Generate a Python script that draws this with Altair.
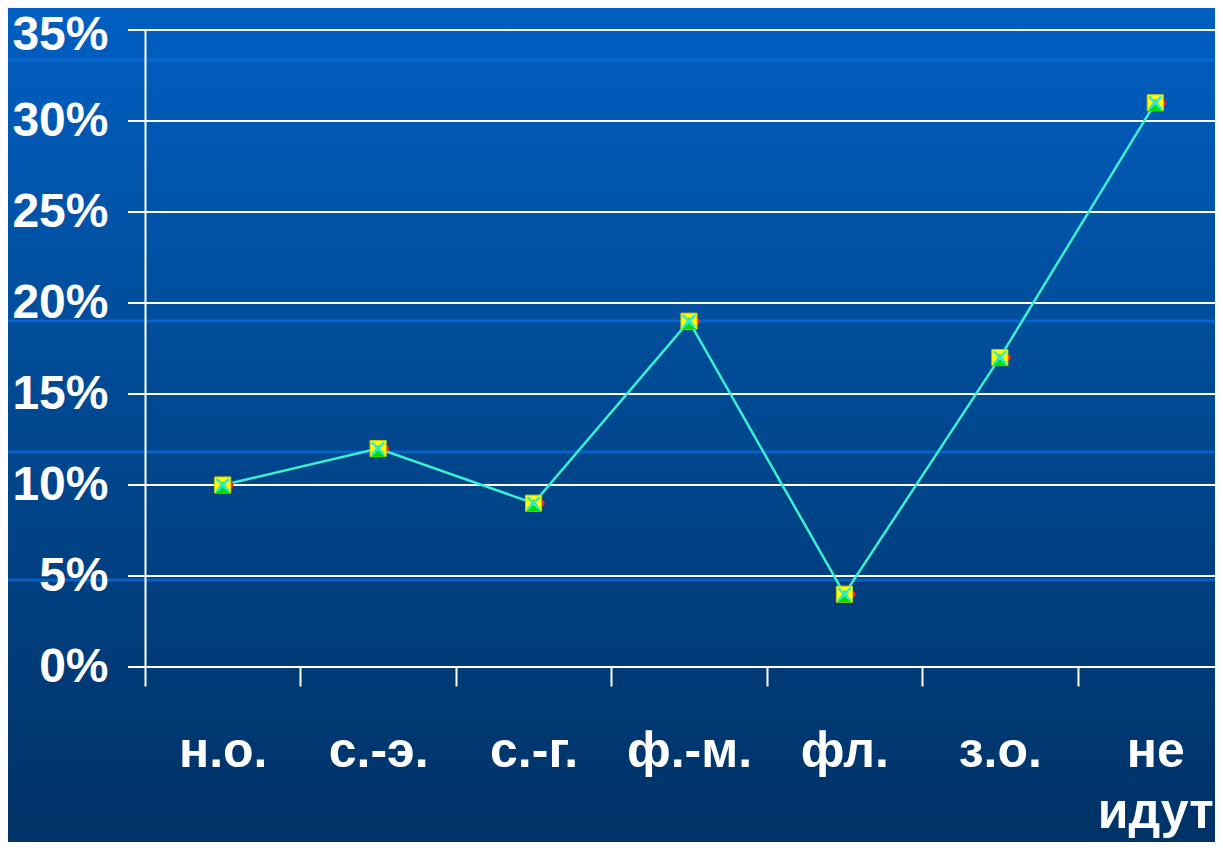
import altair as alt
import pandas as pd

categories = ["н.о.", "с.-э.", "с.-г.", "ф.-м.", "фл.", "з.о.", "не идут"]
values = [0.10, 0.12, 0.09, 0.19, 0.04, 0.17, 0.31]
y_ticks = [0, 0.05, 0.10, 0.15, 0.20, 0.25, 0.30, 0.35]

W, H = 1070, 637
PAD_L, PAD_T, PAD_B = 137, 22, 175

df = pd.DataFrame({"cat": categories, "val": values})
grid_df = pd.DataFrame({"val": y_ticks})

x_enc = alt.X("cat:N", sort=categories,
              scale=alt.Scale(range=[0, 1088], paddingInner=0, paddingOuter=0),
              axis=alt.Axis(title=None, domain=False, ticks=True, tickBand="extent",
                            tickSize=19, tickWidth=2, tickColor="white",
                            labelAngle=0, labelFont="Liberation Sans", labelFontWeight="bold",
                            labelFontSize=50, labelColor="white", labelPadding=80,
                            labelBaseline="alphabetic", labelLineHeight=61,
                            labelExpr="split(datum.label, ' ')", labelOverlap=False,
                            labelBound=False, zindex=1))
y_scale = alt.Scale(domain=[0, 0.35], nice=False, zero=True)
y_axis = alt.Axis(title=None, values=y_ticks, format=".0%", grid=False, ticks=False,
                  domain=True, domainColor="white", domainWidth=2,
                  labelFont="Liberation Sans", labelFontWeight="bold",
                  labelFontSize=48, labelColor="white", labelPadding=37,
                  labelBaseline="middle",
                  labelOffset=alt.condition("datum.value >= 0.349", alt.value(5), alt.value(0)),
                  labelBound=False, labelFlush=False, zindex=1)
y_enc = alt.Y("val:Q", scale=y_scale, axis=y_axis)

bg = alt.Chart(alt.Data(values=[{"k": 1}])).mark_rect(
    fill=alt.Gradient(gradient="linear", x1=0, y1=0, x2=0, y2=1,
                      stops=[alt.GradientStop(offset=0, color="#005fc2"),
                             alt.GradientStop(offset=0.42, color="#004c98"),
                             alt.GradientStop(offset=1, color="#003368")])
).encode(x=alt.value(-PAD_L), x2=alt.value(W), y=alt.value(-PAD_T), y2=alt.value(H + PAD_B - 16))

stripe_y = [30, 291, 422, 550, 815]
stripes = alt.Chart(pd.DataFrame({"py": stripe_y})).mark_rule(
    color="#0a6ad6", strokeWidth=3, opacity=0.8
).encode(x=alt.value(-PAD_L), x2=alt.value(W), y=alt.Y("py:Q", scale=None, axis=None))

grid = alt.Chart(grid_df).mark_rule(color="white", strokeWidth=2).encode(
    x=alt.value(-17), x2=alt.value(W), y=y_enc)

base = alt.Chart(df).encode(x=x_enc, y=y_enc)

line = base.mark_line(color="#3af0d0", strokeWidth=2.5)
red = base.mark_point(shape="circle", filled=True, color="#ff2020", size=36, xOffset=8, opacity=1)
sq = base.mark_point(shape="square", filled=True, color="#ffff00", size=260, stroke="#c8c800",
                     strokeWidth=1, opacity=1)
tri = base.mark_point(shape="triangle-up", filled=True, color="#00e000", size=200, yOffset=2, opacity=1)
xs = base.mark_point(shape="M-1,-1L1,1M-1,1L1,-1", filled=False, color="#30e8e0", size=150,
                     strokeWidth=2.5, opacity=1)

chart = alt.layer(bg, stripes, grid, line, red, sq, tri, xs).properties(
    width=W, height=H,
    padding={"left": PAD_L, "top": PAD_T, "right": 0, "bottom": PAD_B},
    autosize=alt.AutoSizeParams(type="none"),
    background="#003368",
).configure_view(stroke=None)

chart.save("out.html", embed_options={"renderer": "svg", "actions": False})
